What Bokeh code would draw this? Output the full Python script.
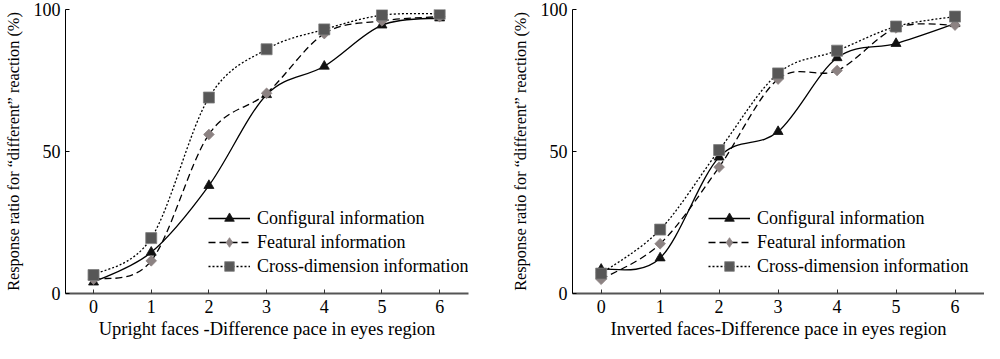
import numpy as np
from bokeh.plotting import figure
from bokeh.layouts import row
from bokeh.models import Range1d, FixedTicker, Legend, LegendItem, ColumnDataSource
from bokeh.embed import file_html
from bokeh.resources import INLINE

steps = [0, 1, 2, 3, 4, 5, 6]
y_ticks = [0, 50, 100]

upright_configural = [4, 14.5, 38, 70, 80, 94.5, 97]
upright_featural = [5, 11.5, 56, 70.5, 91.5, 96, 97.5]
upright_cross = [6.5, 19.5, 69, 86, 93, 98, 98.5]

inverted_configural = [8.5, 12.5, 48, 57, 83, 88, 95]
inverted_featural = [5, 17.5, 44.5, 75.5, 78.5, 93.5, 94.5]
inverted_cross = [7, 22.5, 50.5, 77.5, 85.5, 94, 97.5]

series_names = ["Configural information", "Featural information", "Cross-dimension information"]
x_titles = ["Upright faces -Difference pace in eyes region", "Inverted faces-Difference pace in eyes region"]
y_title = "Response ratio for \u201cdifferent\u201d reaction (%)"

FONT = "Liberation Serif"

FRAME_W = 412
TOTAL_H = 343
TOP = 9
BOTTOM = 50


def bezier_source(xs, ys):
    n = len(xs)
    P = list(zip(xs, ys))
    d = dict(x0=[], y0=[], x1=[], y1=[], cx0=[], cy0=[], cx1=[], cy1=[])
    for i in range(n - 1):
        pm = P[i - 1] if i > 0 else P[i]
        p0 = P[i]
        p1 = P[i + 1]
        pp = P[i + 2] if i + 2 < n else P[i + 1]
        d["x0"].append(p0[0]); d["y0"].append(p0[1])
        d["x1"].append(p1[0]); d["y1"].append(p1[1])
        d["cx0"].append(p0[0] + (p1[0] - pm[0]) / 6.0)
        d["cy0"].append(p0[1] + (p1[1] - pm[1]) / 6.0)
        d["cx1"].append(p1[0] - (pp[0] - p0[0]) / 6.0)
        d["cy1"].append(p1[1] - (pp[1] - p0[1]) / 6.0)
    return ColumnDataSource(d)


styles = [
    dict(dash="solid", marker="triangle", legend_marker="triangle", size=10, angle=0.0,
         fill="#111111", line="#111111"),
    dict(dash="7 4", marker="square", legend_marker="diamond", size=7.5, angle=np.pi / 4,
         fill="#8c8282", line="#8c8282"),
    dict(dash="2 2", marker="square", legend_marker="square", size=11, angle=0.0,
         fill="#575757", line="#7d7d7d"),
]


def make_plot(data, x_title, left_border, right_border, legend_x):
    p = figure(width=left_border + FRAME_W + right_border, height=TOTAL_H,
               output_backend="svg", toolbar_location=None,
               x_range=Range1d(-0.486, 6.5), y_range=Range1d(0, 100),
               min_border_left=left_border, min_border_right=right_border,
               min_border_top=TOP, min_border_bottom=BOTTOM)
    p.outline_line_color = None
    p.grid.visible = False
    p.background_fill_color = "white"
    p.border_fill_color = "white"

    items = []
    for ys, st, name in zip(data, styles, series_names):
        src = bezier_source(steps, ys)
        p.bezier(x0="x0", y0="y0", x1="x1", y1="y1", cx0="cx0", cy0="cy0",
                 cx1="cx1", cy1="cy1", source=src, line_color="black",
                 line_width=1.3, line_dash=st["dash"])
        leg_line = p.line(x=steps, y=ys, line_color="black", line_width=1.3,
                          line_dash=st["dash"], visible=False)
        leg_mark = p.scatter(x=steps, y=ys, marker=st["legend_marker"], fill_color=st["fill"],
                             line_color=st["line"], line_width=0.8, visible=False)
        p.scatter(x=steps, y=ys, marker=st["marker"], size=st["size"], angle=st["angle"],
                  fill_color=st["fill"], line_color=st["line"], line_width=0.8)
        items.append(LegendItem(label=name, renderers=[leg_line, leg_mark]))

    legend = Legend(items=items, location=(legend_x, 15))
    legend.border_line_color = None
    legend.background_fill_alpha = 0
    legend.padding = 0
    legend.margin = 0
    legend.spacing = 0
    legend.label_height = 24
    legend.glyph_height = 24
    legend.glyph_width = 42
    legend.label_standoff = 7
    legend.label_text_font = FONT
    legend.label_text_font_size = "18px"
    legend.label_text_color = "black"
    p.add_layout(legend, "center")

    p.xaxis.ticker = FixedTicker(ticks=steps)
    p.yaxis.ticker = FixedTicker(ticks=y_ticks)
    for ax in (p.xaxis[0], p.yaxis[0]):
        ax.minor_tick_line_color = None
        ax.major_tick_in = 4
        ax.major_tick_out = 0
        ax.major_label_text_font = FONT
        ax.major_label_text_font_size = "18px"
        ax.major_label_text_color = "black"
        ax.axis_label_text_font = FONT
        ax.axis_label_text_font_style = "normal"
        ax.axis_label_text_color = "black"
    p.xaxis.axis_label_text_font_size = "18.5px"
    p.yaxis.axis_label_text_font_size = "16.3px"
    p.xaxis.axis_line_color = "#555555"
    p.xaxis.axis_line_width = 2
    p.xaxis.major_tick_line_color = "#333333"
    p.yaxis.axis_line_color = "black"
    p.yaxis.major_tick_line_color = "black"
    p.xaxis.axis_label = x_title
    p.yaxis.axis_label = y_title
    p.xaxis.major_label_standoff = 6
    p.xaxis.axis_label_standoff = 3
    p.yaxis.major_label_standoff = 5
    p.yaxis.axis_label_standoff = 8
    return p


p1 = make_plot([upright_configural, upright_featural, upright_cross], x_titles[0], 56, 24, 143)
p2 = make_plot([inverted_configural, inverted_featural, inverted_cross], x_titles[1], 80, 0, 136)

layout = row(p1, p2)

open("out.html", "w").write(file_html(layout, INLINE))
